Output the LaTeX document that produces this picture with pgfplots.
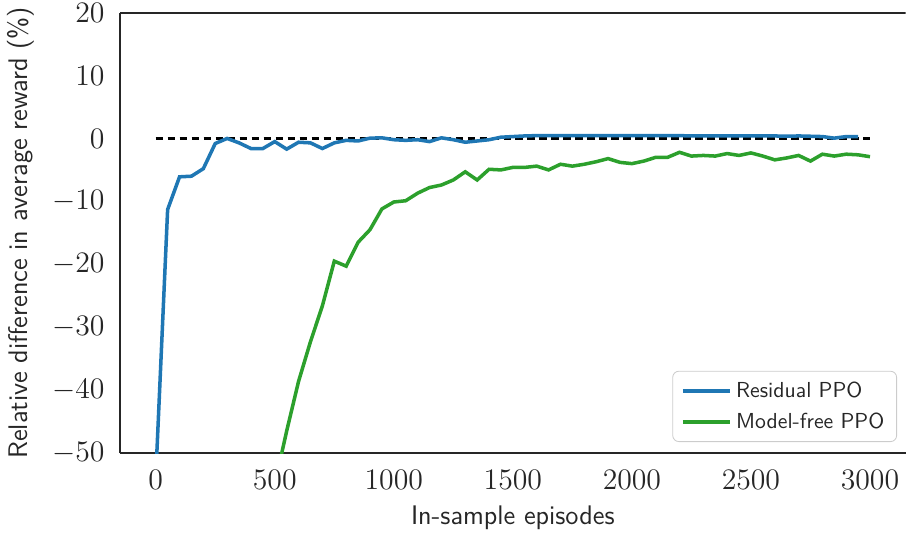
\documentclass[border=0pt]{standalone}
\usepackage{pgfplots}
\pgfplotsset{compat=1.18}
\definecolor{tabblue}{HTML}{1F77B4}
\definecolor{tabgreen}{HTML}{2CA02C}
\definecolor{spine}{HTML}{262626}
\begin{document}
\begin{tikzpicture}
\begin{axis}[
  scale only axis,
  width=380pt, height=213pt,
  xmin=-150, xmax=3150,
  ymin=-50, ymax=20,
  axis lines=left,
  axis line style={-, spine, line width=1.25pt},
  major tick length=0pt,
  xtick={0,500,1000,1500,2000,2500,3000},
  ytick={-50,-40,-30,-20,-10,0,10,20},
  tick label style={font=\fontsize{14}{16}\selectfont, text=spine},
  yticklabel style={inner ysep=0pt},
  xticklabel shift=5pt,
  yticklabel shift=4pt,
  scaled x ticks=false,
  xticklabel style={/pgf/number format/1000 sep={}},
  label style={font=\sffamily\fontsize{13}{15}\selectfont, text=spine},
  xlabel={In-sample episodes},
  ylabel={Relative difference in average reward (\%)},
  xlabel style={yshift=-1pt},
  ylabel style={yshift=2pt},
  clip=true,
  legend style={at={(0.989,0.025)}, anchor=south east, draw=black!20, rounded corners=3pt,
    font=\sffamily\fontsize{10.5}{13}\selectfont, text=spine, inner xsep=4pt, inner ysep=3pt,
    row sep=2pt},
  legend cell align=left,
  legend image code/.code={\draw[#1, line width=1.7pt] (0pt,0pt) -- (23pt,0pt);},
]
\addplot[black, line width=1.25pt, dash pattern=on 3.6pt off 2.2pt, forget plot] coordinates {(0,0) (3000,0)};
\addplot[tabblue, line width=1.7pt] coordinates {
(0,-54) (50,-11.3) (100,-6.1) (150,-6.0) (200,-4.8) (250,-0.8) (300,0.0) (350,-0.7)
(400,-1.6) (450,-1.6) (500,-0.5) (550,-1.7) (600,-0.6) (650,-0.7) (700,-1.6) (750,-0.7)
(800,-0.3) (850,-0.4) (900,0.05) (950,0.1) (1000,-0.2) (1050,-0.3) (1100,-0.2) (1150,-0.5)
(1200,0.1) (1250,-0.2) (1300,-0.6) (1350,-0.4) (1400,-0.2) (1450,0.2) (1500,0.3) (1550,0.4)
(1600,0.45) (1650,0.45) (1700,0.45) (1750,0.45) (1800,0.45) (1850,0.45) (1900,0.45) (1950,0.45)
(2000,0.45) (2050,0.45) (2100,0.45) (2150,0.45) (2200,0.45) (2250,0.4) (2300,0.4) (2350,0.4)
(2400,0.4) (2450,0.4) (2500,0.4) (2550,0.4) (2600,0.4) (2650,0.35) (2700,0.4) (2750,0.35)
(2800,0.3) (2850,0.05) (2900,0.3) (2950,0.3)
};
\addlegendentry{Residual PPO}
\addplot[tabgreen, line width=1.7pt] coordinates {
(450,-64) (500,-55) (550,-46.5) (600,-38.6) (650,-32.3) (700,-26.6) (750,-19.5) (800,-20.3)
(850,-16.5) (900,-14.5) (950,-11.2) (1000,-10.1) (1050,-9.9) (1100,-8.7) (1150,-7.8) (1200,-7.4)
(1250,-6.6) (1300,-5.3) (1350,-6.6) (1400,-4.9) (1450,-5.0) (1500,-4.6) (1550,-4.6) (1600,-4.4)
(1650,-5.0) (1700,-4.1) (1750,-4.4) (1800,-4.1) (1850,-3.7) (1900,-3.2) (1950,-3.8) (2000,-4.0)
(2050,-3.6) (2100,-3.0) (2150,-3.0) (2200,-2.2) (2250,-2.8) (2300,-2.7) (2350,-2.8) (2400,-2.4)
(2450,-2.7) (2500,-2.3) (2550,-2.8) (2600,-3.4) (2650,-3.1) (2700,-2.7) (2750,-3.6) (2800,-2.5)
(2850,-2.8) (2900,-2.5) (2950,-2.6) (3000,-2.9)
};
\addlegendentry{Model-free PPO}
\draw[spine, line width=1.25pt] (rel axis cs:0,1) -- (rel axis cs:1,1);
\end{axis}
\end{tikzpicture}
\end{document}
